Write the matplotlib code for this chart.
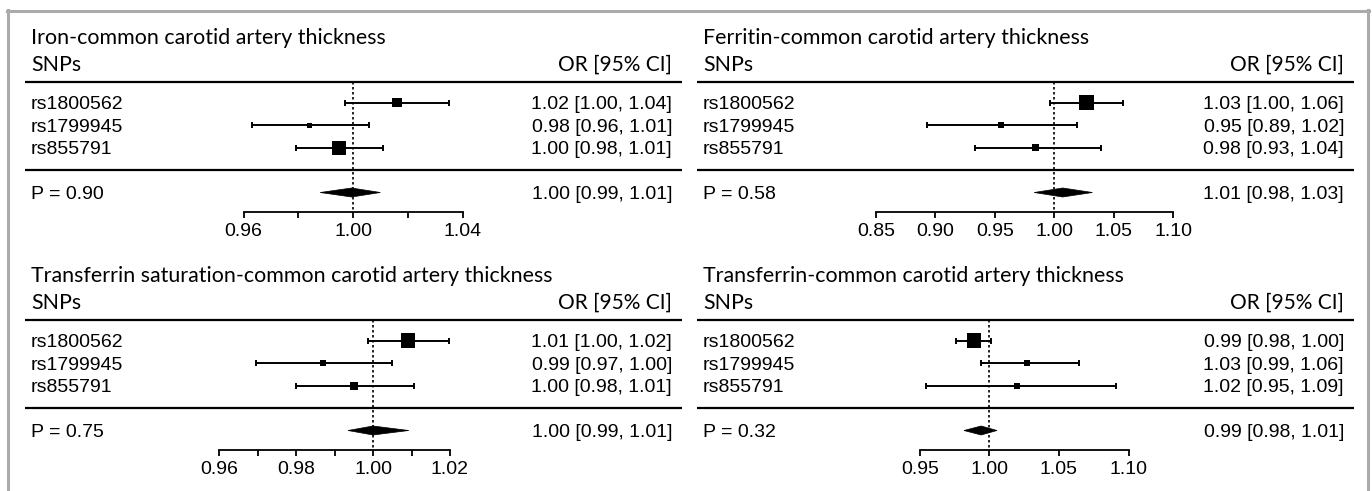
import matplotlib
matplotlib.use('Agg')
import matplotlib.pyplot as plt
from matplotlib.lines import Line2D
from matplotlib.patches import Polygon

W, H = 1372, 491

snps = ['rs1800562', 'rs1799945', 'rs855791']

# panel 1: iron
title_iron = 'Iron-common carotid artery thickness'
est_iron = [1.016, 0.984, 0.995]
lo_iron = [0.997, 0.963, 0.979]
hi_iron = [1.035, 1.006, 1.011]
wt_iron = [0.70, 0.36, 1.00]
txt_iron = ['1.02 [1.00, 1.04]', '0.98 [0.96, 1.01]', '1.00 [0.98, 1.01]']
pool_iron = [0.988, 0.9995, 1.010]
pooltxt_iron = '1.00 [0.99, 1.01]'
p_iron = 'P = 0.90'
ticks_iron = [0.96, 0.98, 1.00, 1.02, 1.04]
ticklab_iron = ['0.96', '', '1.00', '', '1.04']

# panel 2: ferritin
title_fer = 'Ferritin-common carotid artery thickness'
est_fer = [1.027, 0.955, 0.984]
lo_fer = [0.996, 0.893, 0.933]
hi_fer = [1.058, 1.019, 1.039]
wt_fer = [1.00, 0.43, 0.50]
txt_fer = ['1.03 [1.00, 1.06]', '0.95 [0.89, 1.02]', '0.98 [0.93, 1.04]']
pool_fer = [0.983, 1.007, 1.032]
pooltxt_fer = '1.01 [0.98, 1.03]'
p_fer = 'P = 0.58'
ticks_fer = [0.85, 0.90, 0.95, 1.00, 1.05, 1.10]
ticklab_fer = ['0.85', '0.90', '0.95', '1.00', '1.05', '1.10']

# panel 3: transferrin saturation
title_tsat = 'Transferrin saturation-common carotid artery thickness'
est_tsat = [1.009, 0.987, 0.995]
lo_tsat = [0.9986, 0.9695, 0.980]
hi_tsat = [1.0198, 1.0049, 1.0106]
wt_tsat = [1.00, 0.45, 0.55]
txt_tsat = ['1.01 [1.00, 1.02]', '0.99 [0.97, 1.00]', '1.00 [0.98, 1.01]']
pool_tsat = [0.9935, 1.000, 1.0093]
pooltxt_tsat = '1.00 [0.99, 1.01]'
p_tsat = 'P = 0.75'
ticks_tsat = [0.96, 0.97, 0.98, 0.99, 1.00, 1.01, 1.02]
ticklab_tsat = ['0.96', '', '0.98', '', '1.00', '', '1.02']

# panel 4: transferrin
title_tf = 'Transferrin-common carotid artery thickness'
est_tf = [0.989, 1.027, 1.020]
lo_tf = [0.976, 0.994, 0.954]
hi_tf = [1.0013, 1.0644, 1.0913]
wt_tf = [1.00, 0.45, 0.40]
txt_tf = ['0.99 [0.98, 1.00]', '1.03 [0.99, 1.06]', '1.02 [0.95, 1.09]']
pool_tf = [0.9816, 0.994, 1.0054]
pooltxt_tf = '0.99 [0.98, 1.01]'
p_tf = 'P = 0.32'
ticks_tf = [0.95, 1.00, 1.05, 1.10]
ticklab_tf = ['0.95', '1.00', '1.05', '1.10']

panels = [
    dict(title=title_iron, est=est_iron, lo=lo_iron, hi=hi_iron, wt=wt_iron, txt=txt_iron,
         pool=pool_iron, pooltxt=pooltxt_iron, p=p_iron, ticks=ticks_iron, ticklab=ticklab_iron),
    dict(title=title_fer, est=est_fer, lo=lo_fer, hi=hi_fer, wt=wt_fer, txt=txt_fer,
         pool=pool_fer, pooltxt=pooltxt_fer, p=p_fer, ticks=ticks_fer, ticklab=ticklab_fer),
    dict(title=title_tsat, est=est_tsat, lo=lo_tsat, hi=hi_tsat, wt=wt_tsat, txt=txt_tsat,
         pool=pool_tsat, pooltxt=pooltxt_tsat, p=p_tsat, ticks=ticks_tsat, ticklab=ticklab_tsat),
    dict(title=title_tf, est=est_tf, lo=lo_tf, hi=hi_tf, wt=wt_tf, txt=txt_tf,
         pool=pool_tf, pooltxt=pooltxt_tf, p=p_tf, ticks=ticks_tf, ticklab=ticklab_tf),
]

# layout: (dx, dy, pixel of OR=1.00, pixels per OR unit)
layout = [(0, 0, 353, 2737.5), (672, 0, 1054.4, 1189.6),
          (0, 238, 373, 3850.0), (672, 238, 989.5, 1390.0)]

label_font = ['Liberation Sans', 'DejaVu Sans']
head_font = ['Lato', 'DejaVu Sans']
fs = 14

fig = plt.figure(figsize=(W / 100, H / 100), dpi=100)
fig.patch.set_facecolor('white')

for p, (dx, dy, one_px, scale) in zip(panels, layout):
    cx0, cx1 = 10 + dx, 688 + dx
    cy0, cy1 = 12 + dy, 250 + dy
    ax = fig.add_axes([cx0 / W, 1 - cy1 / H, (cx1 - cx0) / W, (cy1 - cy0) / H])
    ax.set_xlim(1 + (cx0 - one_px) / scale, 1 + (cx1 - one_px) / scale)
    ax.set_ylim(cy1, cy0)
    ax.patch.set_alpha(0)

    def X(px):
        return 1 + (px - one_px) / scale

    left, right = X(31 + dx), X(672 + dx)
    rows = [102.5 + dy, 125.3 + dy, 147.7 + dy]
    prow = 192.5 + dy
    axis_y = 211.7 + dy

    ax.text(left, 44 + dy, p['title'], family=head_font, fontsize=15.4, ha='left', va='baseline')
    ax.text(left, 71 + dy, 'SNPs', family=head_font, fontsize=15.4, ha='left', va='baseline')
    ax.text(right, 71 + dy, 'OR [95% CI]', family=head_font, fontsize=15, ha='right', va='baseline')

    ax.plot([X(25 + dx), X(682 + dx)], [81.7 + dy] * 2, color='black', lw=1.6, solid_capstyle='butt')
    ax.plot([X(25 + dx), X(682 + dx)], [170 + dy] * 2, color='black', lw=1.6, solid_capstyle='butt')

    # reference line at OR = 1
    ax.plot([1.0, 1.0], [82 + dy, axis_y], color='black', lw=1.2, linestyle=(0, (1.5, 1.5)))

    for y, name, t in zip(rows, snps, p['txt']):
        ax.text(left, y + 6.5, name, family=label_font, fontsize=fs, ha='left', va='baseline')
        ax.text(right, y + 6.5, t, family=label_font, fontsize=fs, ha='right', va='baseline')

    est, lo, hi = p['est'], p['lo'], p['hi']
    ax.errorbar(est, rows, xerr=[[e - l for e, l in zip(est, lo)], [h - e for e, h in zip(est, hi)]],
                fmt='none', ecolor='black', elinewidth=1.4, capsize=2.4, capthick=1.4)
    ax.scatter(est, rows, s=[(10.2 * w) ** 2 for w in p['wt']], marker='s', color='black',
               linewidths=0, zorder=3)

    lo_p, mid_p, hi_p = p['pool']
    ax.add_patch(Polygon([[lo_p, prow], [mid_p, prow - 4.5], [hi_p, prow], [mid_p, prow + 4.5]],
                         closed=True, facecolor='black', edgecolor='black', lw=0.5))
    ax.text(left, prow + 6.5, p['p'], family=label_font, fontsize=fs, ha='left', va='baseline')
    ax.text(right, prow + 6.5, p['pooltxt'], family=label_font, fontsize=fs, ha='right', va='baseline')

    for s in ['top', 'left', 'right']:
        ax.spines[s].set_visible(False)
    ax.spines['bottom'].set_position(('data', axis_y))
    ax.spines['bottom'].set_bounds(p['ticks'][0], p['ticks'][-1])
    ax.spines['bottom'].set_linewidth(1.3)
    ax.set_xticks(p['ticks'])
    ax.set_xticklabels(p['ticklab'], family=label_font, fontsize=fs)
    ax.tick_params(axis='x', direction='out', length=4, width=1.3, pad=4)
    ax.set_yticks([])

# gray frame
frame = '#ababab'
fig.add_artist(Line2D([7.5 / W, 7.5 / W], [0, 1 - 10 / H], color=frame, lw=2.2))
fig.add_artist(Line2D([1367.5 / W, 1367.5 / W], [0, 1 - 10 / H], color=frame, lw=2.2))
fig.add_artist(Line2D([6.5 / W, 1368.5 / W], [1 - 11.3 / H] * 2, color=frame, lw=2.2))

fig.savefig('out.png', dpi=100)
